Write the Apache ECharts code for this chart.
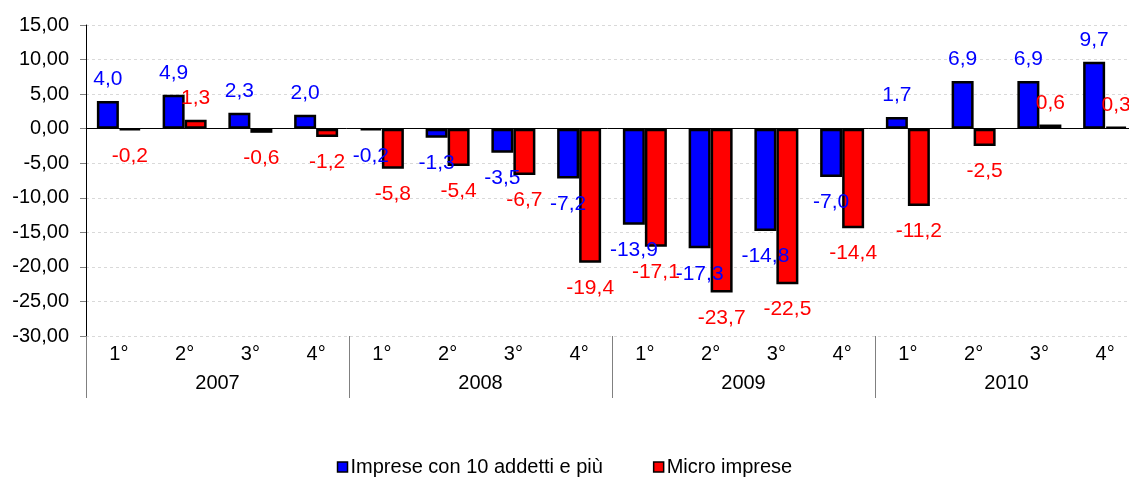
<!DOCTYPE html>
<html><head><meta charset="utf-8">
<script src="https://cdn.jsdelivr.net/npm/echarts@6/dist/echarts.min.js"></script>
<style>html,body{margin:0;padding:0;background:#fff}#c{width:1129px;height:478px}</style>
</head><body><div id="c"></div>
<script>
const quarters = ['1°','2°','3°','4°','1°','2°','3°','4°','1°','2°','3°','4°','1°','2°','3°','4°'];
const years = ['2007','2008','2009','2010'];
const imprese = [4.0, 4.9, 2.3, 2.0, -0.2, -1.3, -3.5, -7.2, -13.9, -17.3, -14.8, -7.0, 1.7, 6.9, 6.9, 9.7];
const micro = [-0.2, 1.3, -0.6, -1.2, -5.8, -5.4, -6.7, -19.4, -17.1, -23.7, -22.5, -14.4, -11.2, -2.5, 0.6, 0.3];
const seriesNames = ['Imprese con 10 addetti e più', 'Micro imprese'];
const yTicks = {min: -30, max: 15, interval: 5};

const FONT = 'Liberation Sans, Arial, sans-serif';
const fmt = v => v.toFixed(1).replace('.', ',');
function build(arr) {
  return arr.map(v => ({
    value: v,
    label: v >= 0 ? {position: 'top', distance: 11} : {position: 'bottom', distance: 15}
  }));
}
const chart = echarts.init(document.getElementById('c'));
chart.setOption({
  animation: false,
  textStyle: {fontFamily: FONT},
  grid: {left: 86, top: 25, height: 311, width: 1052, containLabel: false, outerBoundsMode: 'none'},
  legend: {
    bottom: 1, left: 'center', padding: 0, icon: 'rect',
    itemWidth: 10, itemHeight: 10, itemGap: 50,
    textStyle: {fontSize: 20, color: '#000', fontFamily: FONT, padding: [0, 0, 0, -2]},
    data: seriesNames.map(n => ({name: n, itemStyle: {borderColor: '#000', borderWidth: 1.5}}))
  },
  xAxis: [
    {type: 'category', data: quarters, axisLine: {show: true, onZero: true, lineStyle: {color: '#000', width: 1}},
     axisTick: {show: false}, axisLabel: {show: false}},
    {type: 'category', data: quarters, position: 'bottom', axisLine: {show: false}, axisTick: {show: false},
     axisLabel: {show: true, interval: 0, fontSize: 20, color: '#000', margin: 8}},
    {type: 'category', data: years, position: 'bottom', axisLine: {show: false},
     axisTick: {show: true, length: 62, inside: false, interval: 0, lineStyle: {color: '#808080'}},
     axisLabel: {show: true, interval: 0, fontSize: 20, color: '#000', margin: 37}}
  ],
  yAxis: {
    type: 'value', min: yTicks.min, max: yTicks.max, interval: yTicks.interval,
    axisLine: {show: true, lineStyle: {color: '#000', width: 1}},
    axisTick: {show: true, length: 6, lineStyle: {color: '#808080'}},
    axisLabel: {fontSize: 20, color: '#000', margin: 17, formatter: v => v.toFixed(2).replace('.', ',')},
    splitLine: {show: true, lineStyle: {color: '#d9d9d9', type: [3, 3]}}
  },
  series: [
    {name: seriesNames[0], type: 'bar', xAxisIndex: 0, barWidth: 22, barGap: '0%',
     itemStyle: {color: '#0000FF', borderColor: '#000', borderWidth: 2.5},
     label: {show: true, fontSize: 21, color: '#0000FF', formatter: p => fmt(p.value)},
     data: build(imprese)},
    {name: seriesNames[1], type: 'bar', xAxisIndex: 0, barWidth: 22, barGap: '0%',
     itemStyle: {color: '#FF0000', borderColor: '#000', borderWidth: 2.5},
     label: {show: true, fontSize: 21, color: '#FF0000', formatter: p => fmt(p.value)},
     data: build(micro)}
  ]
});
</script></body></html>
